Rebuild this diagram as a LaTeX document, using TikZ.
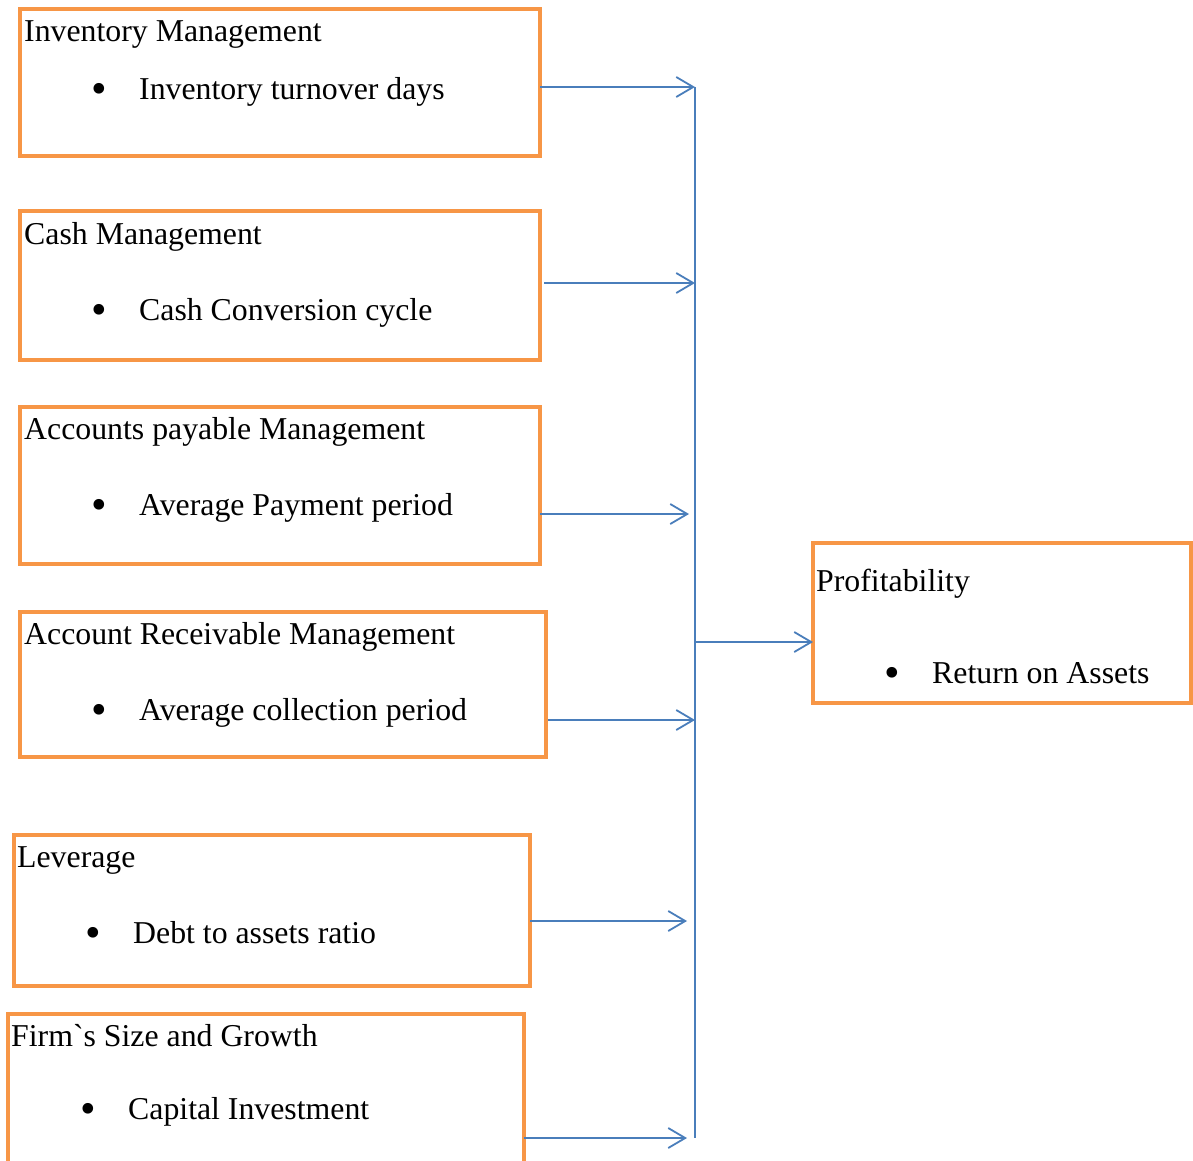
\documentclass[tikz,border=0pt]{standalone}
\usepackage{fontspec}
\setmainfont{Liberation Serif}
\usetikzlibrary{arrows.meta}
\definecolor{boxorange}{HTML}{F79646}
\definecolor{arrowblue}{HTML}{4A7EBB}
\newcommand{\bigbul}{\makebox[47.5pt][l]{\raisebox{-3.6pt}{\scalebox{1.4}{\textbullet}}}}
\newcommand{\rawgrave}{{\addfontfeatures{Ligatures=TeXOff}`}}
\begin{document}
\begin{tikzpicture}[x=1pt,y=-1pt,
  box/.style={draw=boxorange,line width=4.5pt,rectangle,anchor=north west,inner sep=0pt,outer sep=0pt},
  txt/.style={anchor=base west,inner sep=0pt,font=\fontsize{31.8}{36}\selectfont},
  arr/.style={draw=arrowblue,line width=1.8pt,-{Straight Barb[length=17pt,width=20pt,line width=1.8pt]}},
  conn/.style={draw=arrowblue,line width=1.8pt}]
\clip (0,0) rectangle (1193,1160);
\fill[white] (0,0) rectangle (1193,1160);

% boxes
\node[box,minimum width=520pt,minimum height=147pt] (b1) at (20,9) {};
\node[box,minimum width=520pt,minimum height=149pt] (b2) at (20,211) {};
\node[box,minimum width=520pt,minimum height=157pt] (b3) at (20,407) {};
\node[box,minimum width=526pt,minimum height=145pt] (b4) at (20,612) {};
\node[box,minimum width=516pt,minimum height=151pt] (b5) at (14,835) {};
\node[box,minimum width=516pt,minimum height=165pt] (b6) at (8,1014) {};
\node[box,minimum width=378pt,minimum height=160pt] (bp) at (813,543) {};

% texts
\node[txt] (t1) at (24,41.5) {Inventory Management};
\node[txt] (i1) at (91.5,99.5) {\bigbul Inventory turnover days};
\node[txt] (t2) at (24,244.5) {Cash Management};
\node[txt] (i2) at (91.5,320.5) {\bigbul Cash Conversion cycle};
\node[txt] (t3) at (24,439.5) {Accounts payable Management};
\node[txt] (i3) at (91.5,515.5) {\bigbul Average Payment period};
\node[txt] (t4) at (24,644.5) {Account Receivable Management};
\node[txt] (i4) at (91.5,720.5) {\bigbul Average collection period};
\node[txt] (t5) at (17,867.5) {Leverage};
\node[txt] (i5) at (85.5,943.5) {\bigbul Debt to assets ratio};
\node[txt] (t6) at (11,1046.5) {Firm\rawgrave s Size and Growth};
\node[txt] (i6) at (80.5,1119.5) {\bigbul Capital Investment};
\node[txt] (tp) at (816,591.5) {Profitability};
\node[txt] (ip) at (884.5,683.5) {\bigbul Return on Assets};

% junction coordinates
\coordinate (vtop) at (695,87);
\coordinate (vbot) at (695,1138);
\coordinate (e1) at (695,87);
\coordinate (e2) at (695,283);
\coordinate (e3) at (689,514);
\coordinate (e4) at (695,720);
\coordinate (e5) at (687,921);
\coordinate (e6) at (687,1138);
\coordinate (jp) at (695,642);

% connectors
\draw[conn] (vtop) -- (vbot);
\draw[arr] (b1.east |- e1) -- (e1);
\draw[arr] ([xshift=4pt]b2.east |- e2) -- (e2);
\draw[arr] (b3.east |- e3) -- (e3);
\draw[arr] ([xshift=2pt]b4.east |- e4) -- (e4);
\draw[arr] (b5.east |- e5) -- (e5);
\draw[arr] (b6.east |- e6) -- (e6);
\draw[arr] (jp) -- (bp.west |- jp);
\end{tikzpicture}
\end{document}
